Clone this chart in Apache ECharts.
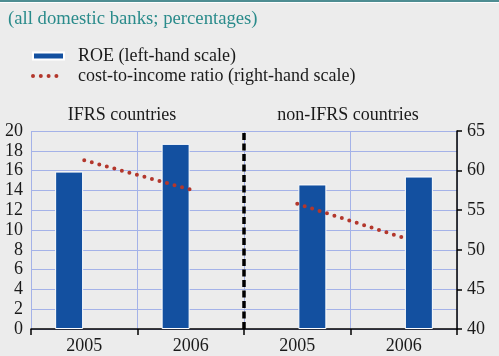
<!DOCTYPE html>
<html>
<head>
<meta charset="utf-8">
<script src="https://cdn.jsdelivr.net/npm/echarts@6/dist/echarts.min.js"></script>
<style>
  html, body { margin: 0; padding: 0; background: #ECECEC; }
  #chart { width: 499px; height: 356px; }
</style>
</head>
<body>
<div id="chart"></div>
<script>
// Categories along the bottom axis (two years per country group)
const categories = ['2005', '2006', '2005', '2006'];
const groupNames = ['IFRS countries', 'non-IFRS countries'];

// Return on equity, % (left-hand scale)
const roeIFRS = [15.9, 18.7, '-', '-'];
const roeNonIFRS = ['-', '-', 14.6, 15.4];

// Cost-to-income ratio, % (right-hand scale)
const costIFRS = [61.3, 57.6, '-', '-'];
const costNonIFRS = ['-', '-', 55.8, 51.5];

// Axis ranges
const leftScale = { min: 0, max: 20, interval: 2 };
const rightScale = { min: 40, max: 65, interval: 5 };

const subtitle = '(all domestic banks; percentages)';
const roeName = 'ROE (left-hand scale)';
const costName = 'cost-to-income ratio (right-hand scale)';

const FONT = 'Liberation Serif';
const GRID_BLUE = '#A4B2E8';
const BAR_BLUE = '#1350A0';
const DOT_RED = '#B3372C';
const TEXT = '#1a1a1a';

const chart = echarts.init(document.getElementById('chart'), null, { renderer: 'canvas' });

const dotted = { color: DOT_RED, width: 4, type: [0, 7.8], cap: 'round' };

chart.setOption({
  backgroundColor: '#ECECEC',
  animation: false,
  graphic: [
    { type: 'rect', shape: { x: 0, y: 0, width: 499, height: 2 }, style: { fill: '#4E8D92' }, silent: true },
    { type: 'rect', shape: { x: 0, y: 2, width: 499, height: 1 }, style: { fill: '#FFFFFF' }, silent: true }
  ],
  title: [
    { text: subtitle, left: 8, top: 10, padding: 0,
      textStyle: { fontFamily: FONT, fontSize: 18.7, fontWeight: 'normal', color: '#2A8B8B' } },
    { text: groupNames[0], left: 122, top: 106, padding: 0, textAlign: 'center',
      textStyle: { fontFamily: FONT, fontSize: 18, fontWeight: 'normal', color: TEXT } },
    { text: groupNames[1], left: 348, top: 106, padding: 0, textAlign: 'center',
      textStyle: { fontFamily: FONT, fontSize: 18, fontWeight: 'normal', color: TEXT } }
  ],
  legend: {
    orient: 'vertical',
    left: 31,
    top: 47,
    padding: 0,
    itemGap: 2,
    itemWidth: 31,
    itemHeight: 7,
    data: [
      { name: roeName, icon: 'rect' },
      { name: costName, itemStyle: { opacity: 0 },
        lineStyle: { color: DOT_RED, width: 4, type: [0, 7.8], cap: 'round' } }
    ],
    textStyle: { fontFamily: FONT, fontSize: 18, color: TEXT, padding: [0, 0, 0, 9] }
  },
  grid: { left: 31, right: 42, top: 131, bottom: 27, containLabel: false },
  xAxis: [
    {
      type: 'category',
      data: categories,
      axisLine: { lineStyle: { color: '#000', width: 1.5 } },
      axisTick: { show: true, length: 6, lineStyle: { color: '#000', width: 1.5 } },
      axisLabel: { fontFamily: FONT, fontSize: 18, color: TEXT, margin: 8 },
      splitLine: { show: true, lineStyle: { color: GRID_BLUE, width: 1 } }
    },
    { type: 'value', min: 0, max: 4, show: false }
  ],
  yAxis: [
    {
      type: 'value',
      min: leftScale.min, max: leftScale.max, interval: leftScale.interval,
      axisLine: { show: false },
      axisTick: { show: false },
      axisLabel: { fontFamily: FONT, fontSize: 18, color: TEXT, margin: 8 },
      splitLine: { show: true, lineStyle: { color: GRID_BLUE, width: 1 } }
    },
    {
      type: 'value',
      position: 'right',
      min: rightScale.min, max: rightScale.max, interval: rightScale.interval,
      axisLine: { show: true, lineStyle: { color: '#000', width: 1.5 } },
      axisTick: { show: true, length: 5, lineStyle: { color: '#000', width: 1.5 } },
      axisLabel: { fontFamily: FONT, fontSize: 18, color: TEXT, margin: 10 },
      splitLine: { show: false }
    }
  ],
  series: [
    {
      name: roeName, type: 'bar', data: roeIFRS,
      barWidth: 28, barGap: '8%',
      itemStyle: { color: BAR_BLUE, borderColor: '#FFFFFF', borderWidth: 1 }
    },
    {
      name: roeName, type: 'bar', data: roeNonIFRS,
      barWidth: 28, barGap: '8%',
      itemStyle: { color: BAR_BLUE, borderColor: '#FFFFFF', borderWidth: 1 }
    },
    {
      name: costName, type: 'line', yAxisIndex: 1, data: costIFRS,
      symbol: 'none', lineStyle: dotted, itemStyle: { color: DOT_RED }
    },
    {
      name: costName, type: 'line', yAxisIndex: 1, data: costNonIFRS,
      symbol: 'none', lineStyle: dotted, itemStyle: { color: DOT_RED }
    },
    {
      // divider between the two country groups
      type: 'line', xAxisIndex: 1, data: [], silent: true,
      markLine: {
        silent: true, symbol: 'none', label: { show: false },
        lineStyle: { color: '#000', width: 3.5, type: [7, 3.5] },
        data: [{ xAxis: 2 }]
      }
    }
  ]
});
</script>
</body>
</html>
